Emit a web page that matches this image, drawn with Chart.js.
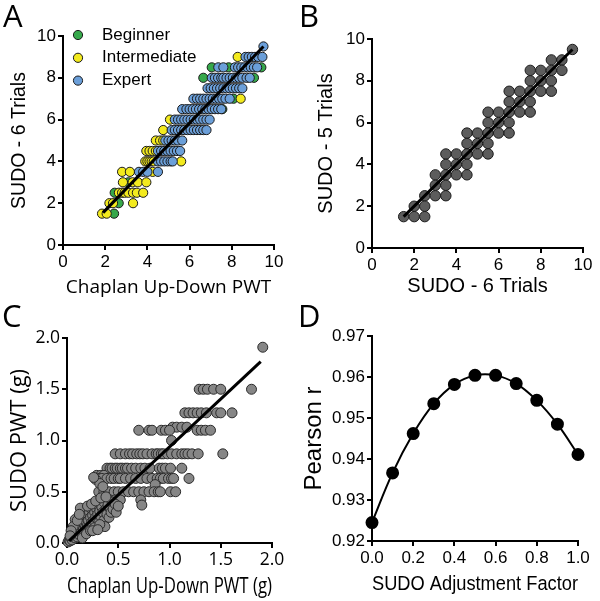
<!DOCTYPE html>
<html><head><meta charset="utf-8">
<script src="https://cdn.jsdelivr.net/npm/chart.js@4.4.0/dist/chart.umd.min.js"></script>
<style>
body{margin:0;background:#fff;width:600px;height:601px;position:relative;overflow:hidden}
canvas{position:absolute}
.lbl{position:absolute;font-family:'Open Sans';font-size:31px;line-height:30px;color:#000}
</style></head><body>
<canvas id="cA" width="300" height="300" style="left:0;top:0"></canvas>
<canvas id="cB" width="300" height="300" style="left:300px;top:0"></canvas>
<canvas id="cC" width="300" height="301" style="left:0;top:300px"></canvas>
<canvas id="cD" width="300" height="301" style="left:300px;top:300px"></canvas>
<div class="lbl" style="left:3px;top:0">A</div>
<div class="lbl" style="left:299px;top:0">B</div>
<div class="lbl" style="left:2px;top:300px">C</div>
<div class="lbl" style="left:298px;top:300px">D</div>
<script>
// ---------- Panel A data (rows of SUDO-6 value, Chaplan values per row) ----------
const groupLabels = ['Beginner','Intermediate','Expert'];
const expertRowY = [9.5, 9.0, 8.5, 8.0, 7.5, 7.0, 6.5, 6.0, 5.5, 5.0, 4.5, 4.0, 3.5];
const expertRowX = [
  [9.5],
  [8.65,8.8,8.95,9.1,9.25,9.45],
  [7.36,7.6,8.15,8.3,8.45,8.6,8.75,8.9,9.05,9.2],
  [7.05,7.2,7.35,7.5,7.6,7.75,7.9,8.05,8.2,8.35,8.5,8.7,8.85],
  [6.85,7.0,7.15,7.3,7.45,7.6,7.75,7.9,8.05,8.2,8.35,8.5],
  [6.18,6.35,6.5,6.65,6.8,6.95,7.1,7.25,7.4,7.55,7.7,7.9],
  [5.65,5.85,6.0,6.15,6.3,6.45,6.6,6.75,6.9,7.05,7.2,7.35,7.5],
  [5.3,5.45,5.6,5.75,5.9,6.05,6.2,6.35,6.5,6.65,6.8,6.95],
  [5.15,5.3,5.45,5.6,5.75,5.9,6.05,6.2,6.35,6.5,6.65,6.8],
  [4.85,5.0,5.15,5.3,5.45,5.65],
  [4.5,4.65,4.8,4.95,5.1,5.25,5.4,5.55],
  [4.5,4.65,4.8,4.95,5.1,5.2],
  [3.6,3.8,4.0,4.5]
];
const interRowY = [9.0, 7.0, 6.0, 5.5, 5.0, 4.5, 4.0, 3.5, 3.0, 2.5, 2.0, 1.5];
const interRowX = [
  [8.28],
  [8.42],
  [5.07],
  [4.75],
  [4.4,4.6,4.75],
  [3.95,4.1,4.25,4.4],
  [3.9,4.0,4.1,4.2,4.3,5.6],
  [2.8,3.17,4.25],
  [2.84,3.3,3.55,3.95],
  [2.65,2.8,2.92,3.1,3.32,3.5,3.8],
  [2.2,2.37,3.32],
  [1.85,2.07]
];
const beginnerX = [7.05,7.85,9.4,6.65,9.05,8.08,7.55,3.1,2.45,2.64,2.42];
const beginnerY = [8.5,8.5,8.5,8.0,8.0,7.0,6.5,3.0,2.5,2.0,1.5];
const fitAX = [1.9, 9.5];
const fitAY = [1.55, 9.5];

// ---------- Panel B data ----------
const bRowY = [9.5,9.0,8.5,8.0,7.5,7.0,6.5,6.0,5.5,5.0,4.5,4.0,3.5,3.0,2.5,2.0,1.5];
const bRowX = [
  [9.5],[8.5,9.0],[7.5,8.0,8.5,9.0],[7.5,8.0,8.5],[6.5,7.0,7.5,8.0,8.5],[6.5,7.0,7.5],
  [5.5,6.0,6.5,7.0,7.5],[5.5,6.0,6.5],[4.5,5.0,5.5,6.0,6.5],[4.5,5.0,5.5],
  [3.5,4.0,4.5,5.0,5.5],[3.5,4.0,4.5],[3.0,3.5,4.0,4.5],[3.0,3.5],[2.5,3.0,3.5],[2.0,2.5],[1.5,2.0,2.5]
];
const fitBX = [1.5, 9.5];
const fitBY = [1.5, 9.5];

// ---------- Panel C data (g) ----------
const cRowY = [1.91,1.5,1.27,1.13,1.1,1.0,0.87,0.73,0.66,0.63,0.57,0.5,0.42,0.37];
const cRowX = [
  [1.91],
  [1.29,1.33,1.37,1.43,1.50,1.80],
  [1.15,1.19,1.23,1.27,1.31,1.36,1.46,1.50,1.61],
  [1.03,1.07,1.12,1.17],
  [0.70,0.80,0.83,0.92,0.96,1.0,1.27,1.31,1.35,1.40],
  [1.02],
  [0.47,0.52,0.57,0.61,0.64,0.68,0.71,0.74,0.78,0.83,0.87,0.89,0.92,0.94,0.98,1.02,1.07,1.12,1.15,1.18,1.22,1.28,1.52],
  [0.39,0.42,0.44,0.47,0.49,0.52,0.54,0.57,0.59,0.63,0.67,0.72,0.76,0.81,0.90,0.93,0.96,1.01,1.12],
  [0.29,0.33,0.36],
  [0.30,0.34,0.39,0.43,0.46,0.50,0.52,0.57,0.62,0.67,0.72,0.78,0.83,0.88,0.91,0.94,0.99,1.02,1.04,1.19],
  [0.86],
  [0.31,0.36,0.41,0.46,0.50,0.55,0.60,0.65,0.70,0.75,0.80,0.85,0.89,0.91,1.01,1.06],
  [0.42,0.47,0.52,0.72],
  [0.73]
];
const cLowX = [0.01,0.02,0.03,0.04,0.05,0.05,0.06,0.07,0.08,0.08,0.09,0.10,0.10,0.11,0.12,0.12,0.13,0.13,0.14,0.14,0.15,0.16,0.16,0.17,0.18,0.18,0.19,0.20,0.20,0.21,0.22,0.22,0.23,0.24,0.24,0.25,0.26,0.26,0.27,0.28,0.29,0.30,0.30,0.31,0.32,0.33,0.34,0.35,0.36,0.36,0.37,0.38,0.39,0.40,0.41,0.42,0.43,0.44,0.45,0.47,0.48,0.50,0.08,0.06,0.04,0.10,0.03,0.12,0.20,0.24,0.28,0.33,0.38,0.15,0.19,0.23,0.27,0.32,0.28,0.32,0.35,0.26,0.25,0.30];
const cLowY = [0.01,0.03,0.02,0.05,0.03,0.08,0.06,0.10,0.05,0.12,0.08,0.14,0.06,0.10,0.17,0.08,0.12,0.34,0.20,0.10,0.16,0.13,0.22,0.18,0.15,0.25,0.20,0.17,0.28,0.22,0.14,0.30,0.25,0.20,0.33,0.27,0.22,0.36,0.30,0.25,0.33,0.28,0.37,0.20,0.31,0.26,0.35,0.30,0.22,0.40,0.16,0.33,0.28,0.37,0.25,0.34,0.30,0.40,0.33,0.38,0.30,0.36,0.23,0.16,0.12,0.22,0.07,0.28,0.36,0.38,0.41,0.44,0.45,0.05,0.09,0.12,0.15,0.18,0.62,0.58,0.55,0.64,0.12,0.13];
const fitCX = [0.02, 1.89];
const fitCY = [0.02, 1.77];

// ---------- Panel D data ----------
const factorX = [0.0,0.1,0.2,0.3,0.4,0.5,0.6,0.7,0.8,0.9,1.0];
const pearsonR = [0.9245,0.9366,0.9462,0.9535,0.9582,0.9604,0.9604,0.9584,0.9543,0.9485,0.9411];

// ---------- helpers ----------
function rowsToPts(rowY, rowX){const p=[];rowY.forEach((y,i)=>rowX[i].forEach(x=>p.push({x,y})));return p;}
function zip(xs, ys){return xs.map((x,i)=>({x, y:ys[i]}));}
const ARIAL = 'Liberation Sans, Arial, sans-serif';
const OPEN = 'Open Sans, sans-serif';

function axis(o){
  return {
    type:'linear', min:o.min, max:o.max, offset:false,
    ticks:{stepSize:o.step, color:'#000', font:o.tickFont, padding:o.tickPad ?? 2, autoSkip:false, maxRotation:0,
           callback:(v)=> o.dec!=null ? Number(v).toFixed(o.dec) : v},
    grid:{display:true, drawOnChartArea:false, drawTicks:true, tickLength:5, tickWidth:2, color:'#000', lineWidth:2},
    border:{display:true, color:'#000', width:2},
    title:{display:true, text:o.title, color:'#000', font:o.titleFont, padding:o.titlePad},
    afterFit: o.isX ? (s)=>{s.height=o.size;} : (s)=>{s.width=o.size;}
  };
}

const legendPlugin = {
  id:'ptLegend',
  afterDraw(chart, args, opts){
    if(!opts || !opts.items) return;
    const ctx = chart.ctx;
    ctx.save();
    ctx.font = opts.font; ctx.textBaseline = 'middle'; ctx.textAlign='left';
    opts.items.forEach((di, i) => {
      const ds = chart.data.datasets[di];
      const y = opts.y + i*opts.gap;
      ctx.beginPath(); ctx.arc(opts.x, y, opts.r, 0, Math.PI*2);
      ctx.fillStyle = ds.backgroundColor; ctx.fill();
      ctx.lineWidth = 1; ctx.strokeStyle = ds.borderColor; ctx.stroke();
      ctx.fillStyle = '#000'; ctx.fillText(ds.label, opts.x + opts.textGap, y);
    });
    ctx.restore();
  }
};

const common = {responsive:false, animation:false, devicePixelRatio:1,
  plugins:{legend:{display:false}, tooltip:{enabled:false}}};
const TICK_A = {family:ARIAL, size:17};

// ---------- Chart A ----------
new Chart(document.getElementById('cA'), {
  type:'scatter',
  data:{datasets:[
    {type:'line', label:'fit', data:zip(fitAX, fitAY), borderColor:'#000', borderWidth:3, pointRadius:0, clip:false},
    {label:groupLabels[2], data:rowsToPts(expertRowY, expertRowX), backgroundColor:'#6b9fd9', borderColor:'#1a1a1a', borderWidth:1, pointRadius:4.6, clip:false},
    {label:groupLabels[1], data:rowsToPts(interRowY, interRowX), backgroundColor:'#f3ea1e', borderColor:'#1a1a1a', borderWidth:1, pointRadius:4.6, clip:false},
    {label:groupLabels[0], data:zip(beginnerX, beginnerY), backgroundColor:'#36a84b', borderColor:'#1a1a1a', borderWidth:1, pointRadius:4.6, clip:false}
  ]},
  options:{...common,
    layout:{padding:{left:0, right:26, top:36, bottom:0}},
    scales:{
      x:axis({isX:true,min:0,max:10,step:2,title:'Chaplan Up-Down PWT',tickFont:TICK_A,titleFont:{family:OPEN,size:19},titlePad:{top:0,bottom:1},size:55}),
      y:axis({min:0,max:10,step:2,title:'SUDO - 6 Trials',tickFont:TICK_A,titleFont:{family:ARIAL,size:19.5},titlePad:{top:8,bottom:0},size:63})
    },
    plugins:{...common.plugins, ptLegend:{items:[3,2,1], x:78, y:35, gap:22.8, r:4.6, textGap:24, font:'17px Liberation Sans, Arial, sans-serif'}}
  },
  plugins:[legendPlugin]
});

// ---------- Chart B ----------
new Chart(document.getElementById('cB'), {
  type:'scatter',
  data:{datasets:[
    {type:'line', label:'fit', data:zip(fitBX, fitBY), borderColor:'#000', borderWidth:3, pointRadius:0, clip:false},
    {label:'SUDO', data:rowsToPts(bRowY, bRowX), backgroundColor:'#5c5c5c', borderColor:'#1a1a1a', borderWidth:1, pointRadius:5.2, clip:false}
  ]},
  options:{...common,
    layout:{padding:{left:0, right:17, top:39, bottom:0}},
    scales:{
      x:axis({isX:true,min:0,max:10,step:2,title:'SUDO - 6 Trials',tickFont:TICK_A,titleFont:{family:ARIAL,size:20},titlePad:{top:0,bottom:2},size:52}),
      y:axis({min:0,max:10,step:2,title:'SUDO - 5 Trials',tickFont:TICK_A,titleFont:{family:ARIAL,size:20},titlePad:{top:14,bottom:0},size:72})
    }
  }
});

// ---------- Chart C ----------
new Chart(document.getElementById('cC'), {
  type:'scatter',
  data:{datasets:[
    {type:'line', label:'fit', data:zip(fitCX, fitCY), borderColor:'#000', borderWidth:3, pointRadius:0, clip:false},
    {label:'PWT', data:rowsToPts(cRowY, cRowX).concat(zip(cLowX, cLowY)), backgroundColor:'#868686', borderColor:'#2a2a2a', borderWidth:1, pointRadius:5, clip:false}
  ]},
  options:{...common,
    layout:{padding:{left:0, right:28, top:38, bottom:0}},
    scales:{
      x:axis({isX:true,min:0,max:2,step:0.5,dec:1,title:'Chaplan Up-Down PWT (g)',tickFont:{family:OPEN,size:17.5},titleFont:{family:OPEN,size:21},titlePad:{top:0,bottom:1},size:58}),
      y:axis({min:0,max:2,step:0.5,dec:1,title:'SUDO PWT (g)',tickFont:{family:OPEN,size:17.5},titleFont:{family:OPEN,size:22},titlePad:{top:7,bottom:0},size:67})
    }
  }
});

// ---------- Chart D ----------
new Chart(document.getElementById('cD'), {
  type:'scatter',
  data:{datasets:[
    {label:'Pearson r', data:zip(factorX, pearsonR), showLine:true, tension:0.4, borderColor:'#000', borderWidth:2,
     backgroundColor:'#000', pointBorderColor:'#000', pointRadius:5.5, clip:false}
  ]},
  options:{...common,
    layout:{padding:{left:0, right:22, top:36, bottom:0}},
    scales:{
      x:axis({isX:true,min:0,max:1,step:0.2,dec:1,title:'SUDO Adjustment Factor',tickFont:TICK_A,titleFont:{family:ARIAL,size:20.5},titlePad:{top:0,bottom:4},size:60}),
      y:axis({min:0.92,max:0.97,step:0.01,dec:2,title:'Pearson r',tickFont:TICK_A,titleFont:{family:ARIAL,size:24},titlePad:{top:0,bottom:0},size:72})
    }
  }
});
</script>
</body></html>
